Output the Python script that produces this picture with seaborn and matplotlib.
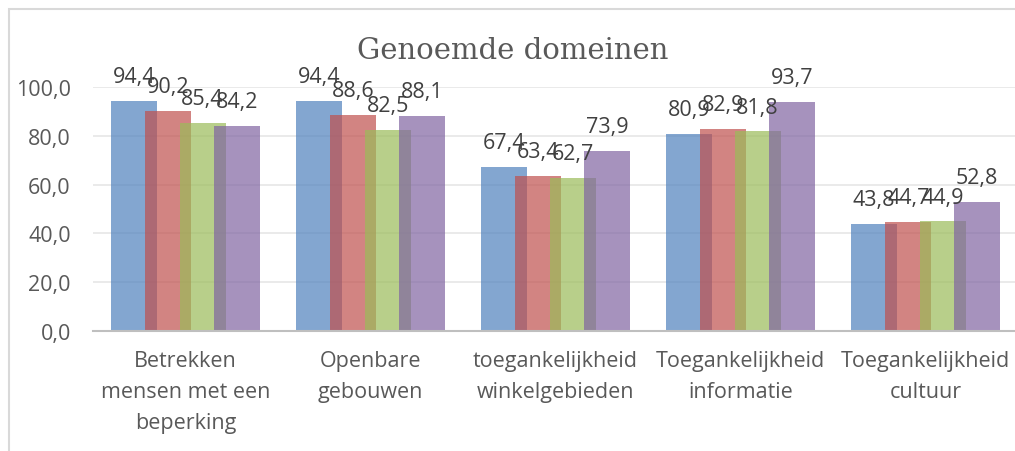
import matplotlib
matplotlib.use("Agg")
import matplotlib.pyplot as plt
import seaborn as sns
import pandas as pd
from matplotlib.patches import Rectangle
from matplotlib.ticker import FuncFormatter, FixedLocator

categories = [
    "Betrekken\nmensen met een\nbeperking",
    "Openbare\ngebouwen",
    "toegankelijkheid\nwinkelgebieden",
    "Toegankelijkheid\ninformatie",
    "Toegankelijkheid\ncultuur",
]
series_names = ["Serie 1", "Serie 2", "Serie 3", "Serie 4"]
serie1 = [94.4, 94.4, 67.4, 80.9, 43.8]
serie2 = [90.2, 88.6, 63.4, 82.9, 44.7]
serie3 = [85.4, 82.5, 62.7, 81.8, 44.9]
serie4 = [84.2, 88.1, 73.9, 93.7, 52.8]
title = "Genoemde domeinen"
yticks = [0, 20, 40, 60, 80, 100]

colors = ["#4F81BD", "#C0504D", "#9BBB59", "#8064A2"]

rows = []
for name, vals in zip(series_names, [serie1, serie2, serie3, serie4]):
    for c, v in zip(categories, vals):
        rows.append({"cat": c, "serie": name, "val": v})
df = pd.DataFrame(rows)

sns.set_style("white")
plt.rcParams["font.family"] = ["Open Sans", "DejaVu Sans"]
text_color = "#595959"

fig = plt.figure(figsize=(10.15, 4.52), dpi=100)
ax = fig.add_axes([93 / 1015, 120 / 452, 925 / 1015, 244 / 452])

sns.barplot(data=df, x="cat", y="val", hue="serie", order=categories,
            hue_order=series_names, palette=colors, saturation=1,
            width=0.74, alpha=0.7, linewidth=0, ax=ax, legend=False)

# widen bars so they overlap like the Excel original
for p in ax.patches:
    cx = p.get_x() + p.get_width() / 2
    w = 0.249
    p.set_x(cx - w / 2)
    p.set_width(w)

for cont in ax.containers:
    labels = [f"{b.get_height():.1f}".replace(".", ",") for b in cont]
    ax.bar_label(cont, labels=labels, padding=10, fontsize=15.5,
                 color="#404040", clip_on=False)

ax.set_xlim(-0.5, 4.5)
ax.set_ylim(0, 100)
ax.set_yticks(yticks)
ax.yaxis.set_major_formatter(FuncFormatter(lambda v, p: f"{v:.1f}".replace(".", ",")))
ax.grid(axis="y", color="#e6e6e6", linewidth=1.2)
ax.set_axisbelow(True)
ax.set_xlabel("")
ax.set_ylabel("")

for s in ["top", "right", "left"]:
    ax.spines[s].set_visible(False)
ax.spines["bottom"].set_color("#bfbfbf")
ax.spines["bottom"].set_linewidth(1.5)

ax.tick_params(axis="y", length=0, pad=16, labelsize=15.5, labelcolor=text_color)
ax.tick_params(axis="x", which="major", length=0, pad=14, labelsize=15.5,
               labelcolor=text_color)
ax.xaxis.set_minor_locator(FixedLocator([-0.5, 0.5, 1.5, 2.5, 3.5, 4.5]))
ax.tick_params(axis="x", which="minor", length=4, width=1.5, color="#bfbfbf",
               direction="out")
for lbl in ax.get_xticklabels():
    lbl.set_linespacing(1.6)
    lbl.set_multialignment("center")

fig.text(513 / 1015, 1 - 51 / 452, title, ha="center", va="center",
         fontsize=21, color=text_color, family=["DejaVu Serif"])

fig.patches.append(Rectangle((9 / 1015, -0.05), 1.2, 1.05 - 10 / 452,
                             transform=fig.transFigure, fill=False,
                             edgecolor="#d9d9d9", linewidth=1.5))

fig.savefig("out.png", dpi=100, facecolor="white")
